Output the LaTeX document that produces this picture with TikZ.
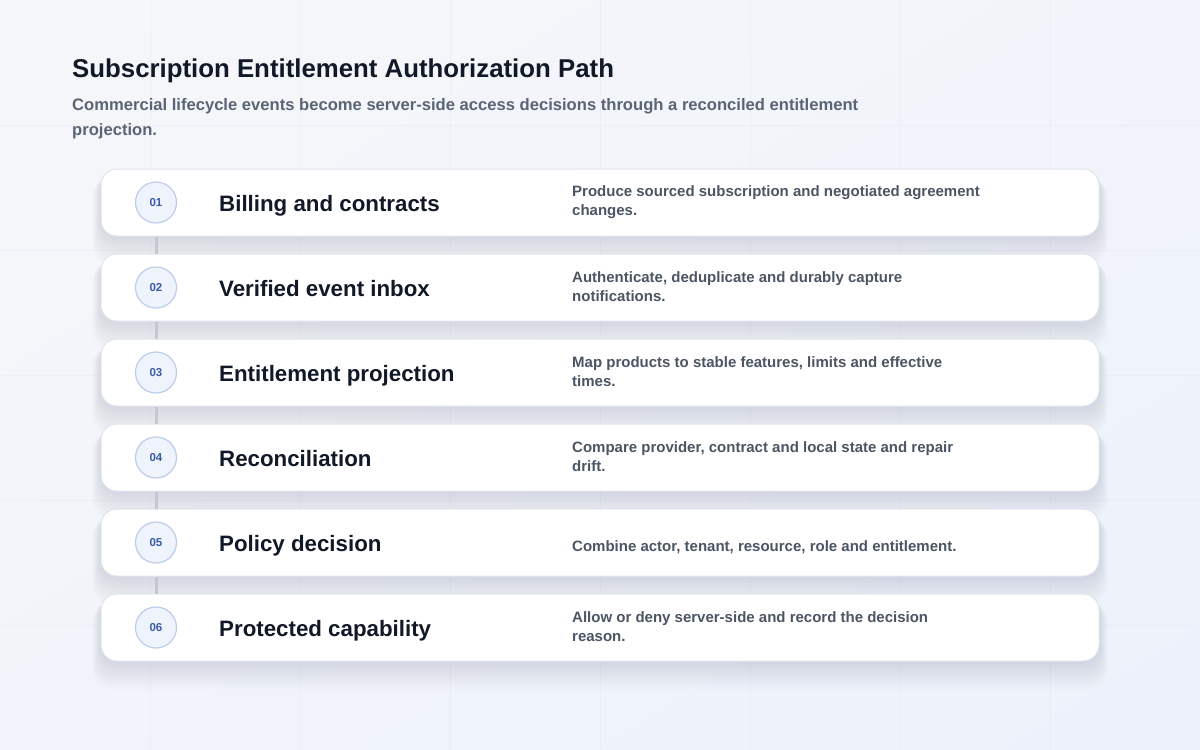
\documentclass[tikz,border=0pt]{standalone}
\usepackage{fontspec}
\setmainfont{Liberation Sans}
\usetikzlibrary{calc,shadings}
\definecolor{bgUL}{HTML}{F6F7FA}
\definecolor{bgUR}{HTML}{F1F4FA}
\definecolor{bgLL}{HTML}{F1F4FA}
\definecolor{bgLR}{HTML}{ECF1FB}
\definecolor{gridc}{HTML}{E4E8F0}
\definecolor{titlec}{HTML}{111827}
\definecolor{subc}{HTML}{5B6474}
\definecolor{descc}{HTML}{4B5563}
\definecolor{cardline}{HTML}{E0E4EC}
\definecolor{shadowc}{HTML}{7F8CAA}
\definecolor{numfill}{HTML}{EEF3FC}
\definecolor{numline}{HTML}{BCCDEB}
\definecolor{numtext}{HTML}{3A5BA6}
\definecolor{linkc}{HTML}{C3C7CF}
\tikzset{
  card/.style={draw=cardline, line width=1pt, fill=white, rounded corners=16pt,
    minimum width=998pt, minimum height=67pt, inner sep=0pt},
  numc/.style={circle, draw=numline, line width=1.2pt, fill=numfill, minimum size=41pt,
    inner sep=0pt, text=numtext, font=\fontsize{11.5}{13}\selectfont\bfseries},
  ttl/.style={anchor=base west, inner sep=0pt, text=titlec, font=\fontsize{22.3}{26}\selectfont\bfseries},
  desc/.style={inner sep=0pt, text=descc, align=left, font=\fontsize{15}{19}\selectfont\bfseries},
  link/.style={draw=linkc, line width=3pt},
}
\begin{document}
\begin{tikzpicture}[x=1pt,y=-1pt]
\useasboundingbox (0,0) rectangle (1200,750);
\shade[upper left=bgUL, upper right=bgUR, lower left=bgLL, lower right=bgLR] (0,0) rectangle (1200,750);
% faint grid
\foreach \gx in {150,300,...,1050} \draw[gridc, opacity=0.45, line width=1pt] (\gx,0) -- (\gx,750);
\foreach \gy in {125,250,...,625} \draw[gridc, opacity=0.45, line width=1pt] (0,\gy) -- (1200,\gy);
% header
\node[anchor=base west, inner sep=0pt, text=titlec, font=\fontsize{25.8}{30}\selectfont\bfseries] (title) at (72,77) {Subscription Entitlement Authorization Path};
\node[anchor=west, inner sep=0pt, text=subc, align=left, font=\fontsize{16.6}{25}\selectfont\bfseries] (subtitle) at (72,118.5) {Commercial lifecycle events become server-side access decisions through a reconciled entitlement\\projection.};
% shadows
\foreach \cy in {202.5,287.5,372.5,457.5,542.5,627.5} {
  \foreach \i in {1,...,14} {
    \fill[shadowc, opacity=0.014, rounded corners=18pt]
      (101-0.6*\i, \cy-30+0.4*\i) rectangle (1099+0.6*\i, \cy+34+2*\i);
  }
}
% cards
\node[card] (k1) at (600,202.5) {};
\node[card] (k2) at (600,287.5) {};
\node[card] (k3) at (600,372.5) {};
\node[card] (k4) at (600,457.5) {};
\node[card] (k5) at (600,542.5) {};
\node[card] (k6) at (600,627.5) {};
% number circles
\node[numc] (n1) at (156,202.5) {01};
\node[numc] (n2) at (156,287.5) {02};
\node[numc] (n3) at (156,372.5) {03};
\node[numc] (n4) at (156,457.5) {04};
\node[numc] (n5) at (156,542.5) {05};
\node[numc] (n6) at (156,627.5) {06};
% connectors between cards
\draw[link] (n1 |- k1.south) -- (n2 |- k2.north);
\draw[link] (n2 |- k2.south) -- (n3 |- k3.north);
\draw[link] (n3 |- k3.south) -- (n4 |- k4.north);
\draw[link] (n4 |- k4.south) -- (n5 |- k5.north);
\draw[link] (n5 |- k5.south) -- (n6 |- k6.north);
% titles
\node[ttl] (t1) at (219,211) {Billing and contracts};
\node[ttl] (t2) at (219,296) {Verified event inbox};
\node[ttl] (t3) at (219,381) {Entitlement projection};
\node[ttl] (t4) at (219,466) {Reconciliation};
\node[ttl] (t5) at (219,551) {Policy decision};
\node[ttl] (t6) at (219,636) {Protected capability};
% descriptions
\node[desc, anchor=west] (d1) at (572,202) {Produce sourced subscription and negotiated agreement\\changes.};
\node[desc, anchor=west] (d2) at (572,287) {Authenticate, deduplicate and durably capture\\notifications.};
\node[desc, anchor=west] (d3) at (572,372) {Map products to stable features, limits and effective\\times.};
\node[desc, anchor=west] (d4) at (572,457) {Compare provider, contract and local state and repair\\drift.};
\node[desc, anchor=base west] (d5) at (572,551.5) {Combine actor, tenant, resource, role and entitlement.};
\node[desc, anchor=west] (d6) at (572,627) {Allow or deny server-side and record the decision\\reason.};
\end{tikzpicture}
\end{document}
